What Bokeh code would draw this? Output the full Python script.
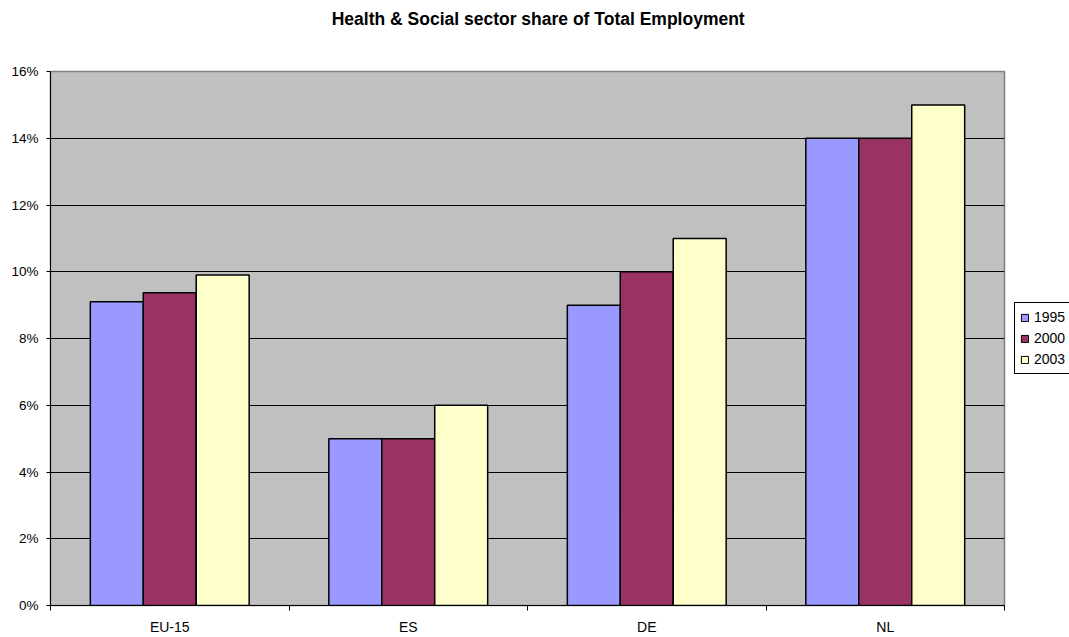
from bokeh.plotting import figure
from bokeh.models import (ColumnDataSource, FixedTicker, NumeralTickFormatter, Legend,
                          LegendItem, Range1d, Label)
from bokeh.layouts import column, row
from bokeh.embed import file_html
from bokeh.resources import INLINE

categories = ["EU-15", "ES", "DE", "NL"]
series_names = ["1995", "2000", "2003"]
values_1995 = [0.091, 0.05, 0.09, 0.14]
values_2000 = [0.0937, 0.05, 0.10, 0.14]
values_2003 = [0.099, 0.06, 0.11, 0.15]
colors = ["#9999FF", "#993366", "#FFFFCC"]
y_ticks = [0, 0.02, 0.04, 0.06, 0.08, 0.10, 0.12, 0.14, 0.16]
title_text = "Health & Social sector share of Total Employment"

FONT = "Liberation Sans"

# ---- title strip ----
tfig = figure(width=1069, height=36, output_backend="svg", toolbar_location=None,
              x_range=Range1d(0, 1), y_range=Range1d(0, 1), x_axis_type=None, y_axis_type=None,
              min_border=0, outline_line_color=None, border_fill_color="white",
              background_fill_color="white")
tfig.grid.visible = False
tfig.add_layout(Label(x=0.503, y=0.5, text=title_text, text_font=FONT, text_font_size="17.5px",
                      text_font_style="bold", text_color="black",
                      text_align="center", text_baseline="middle"))

# ---- main chart ----
p = figure(width=1006, height=601, output_backend="svg", toolbar_location=None,
           x_range=Range1d(0, len(categories)), y_range=Range1d(0, 0.16),
           min_border_left=50, min_border_right=2, min_border_top=35, min_border_bottom=31,
           background_fill_color="#C0C0C0", border_fill_color="white")

bar_w = 0.222
offsets = [-bar_w, 0, bar_w]
for s, vals, col, off in zip(series_names, [values_1995, values_2000, values_2003], colors, offsets):
    src = ColumnDataSource(dict(x=[i + 0.5 + off for i in range(len(categories))], top=vals))
    p.vbar(x="x", top="top", width=bar_w, bottom=0, source=src,
           fill_color=col, line_color="black", line_width=1.5)

p.xaxis.ticker = FixedTicker(ticks=[i + 0.5 for i in range(len(categories))],
                             minor_ticks=list(range(len(categories) + 1)))
p.xaxis.major_label_overrides = {i + 0.5: c for i, c in enumerate(categories)}
p.xaxis.major_tick_out = 0
p.xaxis.major_tick_in = 0
p.xaxis.minor_tick_out = 5
p.xaxis.minor_tick_in = 0
p.xaxis.minor_tick_line_color = "black"
p.xaxis.axis_line_color = "black"
p.xaxis.major_label_text_font = FONT
p.xaxis.major_label_text_font_size = "14px"
p.xaxis.major_label_text_color = "black"
p.xaxis.major_label_standoff = 8

p.yaxis.ticker = FixedTicker(ticks=y_ticks, minor_ticks=[])
p.yaxis.formatter = NumeralTickFormatter(format="0%")
p.yaxis.major_tick_out = 4
p.yaxis.major_tick_in = 0
p.yaxis.major_tick_line_color = "black"
p.yaxis.axis_line_color = "black"
p.yaxis.major_label_text_font = FONT
p.yaxis.major_label_text_font_size = "13.5px"
p.yaxis.major_label_text_color = "black"
p.yaxis.major_label_standoff = 8

p.xgrid.grid_line_color = None
p.ygrid.ticker = FixedTicker(ticks=y_ticks)
p.ygrid.grid_line_color = "black"
p.ygrid.grid_line_alpha = 1.0

p.outline_line_color = "#808080"
p.outline_line_width = 1.5

# ---- legend strip ----
lfig = figure(width=63, height=601, output_backend="svg", toolbar_location=None,
              x_range=Range1d(0, 1), y_range=Range1d(0, 1), x_axis_type=None, y_axis_type=None,
              min_border=0, outline_line_color=None, border_fill_color="white",
              background_fill_color="white")
lfig.grid.visible = False
legend_renderers = []
for col in colors:
    # placeholder glyphs kept outside the visible range; only their legend swatches show
    legend_renderers.append(lfig.vbar(x=[5], top=[6], bottom=[5], width=0.1, fill_color=col,
                                      line_color="black", line_width=1))
legend = Legend(items=[LegendItem(label=s, renderers=[r]) for s, r in zip(series_names, legend_renderers)],
                location=(8, 231), margin=0, padding=5, spacing=3,
                glyph_width=9, glyph_height=9, label_height=18, label_standoff=5,
                label_text_font=FONT, label_text_font_size="14px", label_text_color="black",
                border_line_color="black", border_line_width=1, border_line_alpha=1,
                background_fill_color="white", background_fill_alpha=1)
lfig.add_layout(legend)

layout = column(tfig, row(p, lfig, spacing=0), spacing=0)
open("out.html", "w").write(file_html(layout, INLINE))
